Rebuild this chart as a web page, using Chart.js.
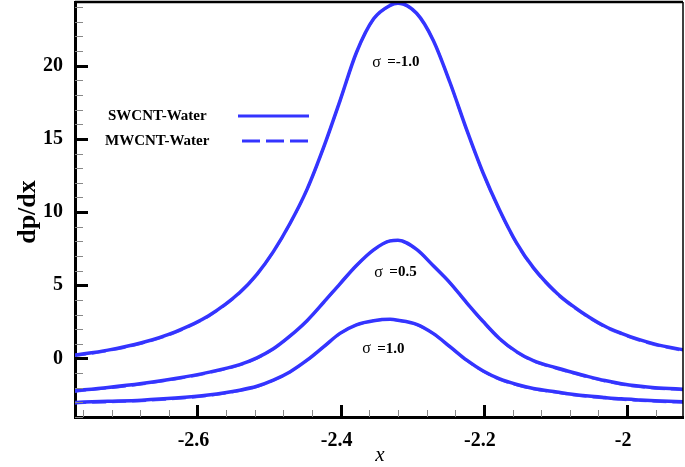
<!DOCTYPE html>
<html>
<head>
<meta charset="utf-8">
<script src="https://cdn.jsdelivr.net/npm/chart.js@4.4.0/dist/chart.umd.min.js"></script>
<style>
    body { margin: 0; background: #fff; }
    #wrap { width: 685px; height: 467px; }
</style>
</head>
<body>
<div id="wrap"><canvas id="myChart" width="685" height="467"></canvas></div>
<script>
// x positions
var xValues = [-2.775, -2.725, -2.678, -2.631, -2.585, -2.541, -2.517, -2.494, -2.471, -2.447, -2.424, -2.401,
    -2.378, -2.354, -2.331, -2.320, -2.294, -2.271, -2.247, -2.224, -2.201, -2.178, -2.154, -2.131,
    -2.098, -2.077, -2.054, -2.031, -2.008, -1.984, -1.961, -1.918];

// SWCNT-Water (solid)
var swSigmaM1 = [0.20, 0.57, 1.07, 1.82, 2.90, 4.50, 5.75, 7.30, 9.20, 11.55, 14.40, 17.60,
    20.90, 23.20, 24.12, 24.27, 23.58, 21.76, 18.80, 15.61, 12.65, 10.13, 7.86, 6.20,
    4.45, 3.62, 2.85, 2.20, 1.72, 1.30, 0.98, 0.55];
var swSigma05 = [-2.22, -1.98, -1.71, -1.37, -0.95, -0.42, 0.04, 0.66, 1.52, 2.58, 3.82, 5.10,
    6.35, 7.42, 8.03, 8.07, 7.45, 6.35, 5.15, 3.80, 2.52, 1.35, 0.45, -0.15,
    -0.65, -0.94, -1.24, -1.51, -1.73, -1.89, -2.00, -2.11];
var swSigma1 = [-3.01, -2.93, -2.85, -2.71, -2.50, -2.17, -1.90, -1.48, -0.92, -0.12, 0.79, 1.71,
    2.30, 2.58, 2.67, 2.61, 2.33, 1.71, 0.79, -0.12, -0.86, -1.40, -1.78, -2.05,
    -2.29, -2.44, -2.57, -2.67, -2.76, -2.83, -2.89, -2.97];

// MWCNT-Water (dashed), almost on top of the solid ones
var mwSigmaM1 = [0.15, 0.52, 1.02, 1.77, 2.86, 4.47, 5.73, 7.29, 9.19, 11.54, 14.39, 17.59,
    20.89, 23.19, 24.10, 24.25, 23.57, 21.75, 18.79, 15.60, 12.63, 10.10, 7.82, 6.16,
    4.40, 3.57, 2.80, 2.15, 1.66, 1.24, 0.92, 0.49];
var mwSigma05 = [-2.27, -2.03, -1.76, -1.42, -0.99, -0.46, 0.01, 0.64, 1.51, 2.57, 3.81, 5.09,
    6.34, 7.41, 8.02, 8.06, 7.44, 6.34, 5.13, 3.78, 2.49, 1.31, 0.41, -0.19,
    -0.70, -0.99, -1.29, -1.56, -1.78, -1.94, -2.05, -2.16];
var mwSigma1 = [-3.06, -2.98, -2.90, -2.76, -2.54, -2.21, -1.93, -1.50, -0.94, -0.13, 0.78, 1.70,
    2.29, 2.57, 2.66, 2.60, 2.32, 1.70, 0.77, -0.14, -0.89, -1.44, -1.82, -2.09,
    -2.33, -2.49, -2.62, -2.72, -2.81, -2.88, -2.94, -3.02];

var legendNames = ['SWCNT-Water', 'MWCNT-Water'];
var curveLabels = [
    { text: '=-1.0', x: -2.356, y: 20.23 },
    { text: '=0.5', x: -2.353, y: 5.88 },
    { text: '=1.0', x: -2.370, y: 0.64 }
];

var blue = 'rgb(52, 52, 255)';
var blueDash = 'rgb(95, 95, 255)';

function toPoints(ys) {
    return xValues.map(function (x, i) { return { x: x, y: ys[i] }; });
}

function solid(ys) {
    return { data: toPoints(ys), borderColor: blue, borderWidth: 3.5, pointRadius: 0,
        cubicInterpolationMode: 'monotone', fill: false };
}
function dashed(ys) {
    return { data: toPoints(ys), borderColor: blueDash, borderWidth: 2.5, borderDash: [14, 6], pointRadius: 0,
        cubicInterpolationMode: 'monotone', fill: false };
}

function isMajorX(v) { return Math.round(v * 100) % 20 === 0; }
function isMajorY(v) { return Math.round(v) % 5 === 0; }

var decorPlugin = {
    id: 'decor',
    afterDatasetsDraw: function (chart) {
        var ctx = chart.ctx;
        var area = chart.chartArea;
        var xs = chart.scales.x;
        var ys = chart.scales.y;
        ctx.save();

        // inward ticks
        xs.ticks.forEach(function (t) {
            var px = Math.round(xs.getPixelForValue(t.value)) + 0.5;
            var major = isMajorX(t.value);
            ctx.beginPath();
            ctx.lineWidth = major ? 3 : 1;
            ctx.strokeStyle = major ? '#000' : '#888';
            ctx.moveTo(px, area.bottom);
            ctx.lineTo(px, area.bottom - (major ? 12 : 7));
            ctx.stroke();
        });
        ys.ticks.forEach(function (t) {
            var py = Math.round(ys.getPixelForValue(t.value)) + 0.5;
            var major = isMajorY(t.value);
            ctx.beginPath();
            ctx.lineWidth = major ? 3 : 1;
            ctx.strokeStyle = major ? '#000' : '#888';
            ctx.moveTo(area.left, py);
            ctx.lineTo(area.left + (major ? 13 : 8), py);
            ctx.stroke();
        });

        // top and right frame
        ctx.strokeStyle = '#000';
        ctx.lineWidth = 2.5;
        ctx.beginPath();
        ctx.moveTo(area.left, area.top);
        ctx.lineTo(area.right, area.top);
        ctx.stroke();
        ctx.lineWidth = 1.5;
        ctx.beginPath();
        ctx.moveTo(area.right, area.top);
        ctx.lineTo(area.right, area.bottom);
        ctx.stroke();

        // legend
        ctx.fillStyle = '#000';
        ctx.font = 'bold 15px "Liberation Serif"';
        ctx.textBaseline = 'middle';
        ctx.textAlign = 'left';
        ctx.fillText(legendNames[0], 108, 116);
        ctx.fillText(legendNames[1], 105, 141);
        ctx.strokeStyle = blue;
        ctx.lineWidth = 3;
        ctx.beginPath();
        ctx.moveTo(238, 116);
        ctx.lineTo(309, 116);
        ctx.stroke();
        ctx.setLineDash([18, 6]);
        ctx.beginPath();
        ctx.moveTo(242, 141);
        ctx.lineTo(308, 141);
        ctx.stroke();
        ctx.setLineDash([]);

        // curve labels
        curveLabels.forEach(function (l) {
            var px = xs.getPixelForValue(l.x);
            var py = ys.getPixelForValue(l.y);
            ctx.fillStyle = '#000';
            ctx.font = '16px "Liberation Serif"';
            ctx.fillText('σ', px, py);
            ctx.font = 'bold 15px "Liberation Serif"';
            ctx.fillText(l.text, px + 15, py);
        });

        // axis titles
        ctx.font = 'bold 26px "Liberation Serif"';
        ctx.textAlign = 'center';
        ctx.save();
        ctx.translate(28, 212);
        ctx.rotate(-Math.PI / 2);
        ctx.fillText('dp/dx', 0, 0);
        ctx.restore();
        ctx.font = 'italic 21px "Liberation Serif"';
        ctx.fillText('x', 380, 455);

        ctx.restore();
    }
};

var ctx = document.getElementById('myChart').getContext('2d');
var chart = new Chart(ctx, {
    type: 'line',
    data: {
        datasets: [
            solid(swSigmaM1), solid(swSigma05), solid(swSigma1),
            dashed(mwSigmaM1), dashed(mwSigma05), dashed(mwSigma1)
        ]
    },
    options: {
        responsive: false,
        animation: false,
        layout: { padding: { top: 2, right: 2, left: 0, bottom: 0 } },
        plugins: { legend: { display: false }, tooltip: { enabled: false } },
        scales: {
            x: {
                type: 'linear',
                min: -2.771,
                max: -1.922,
                grid: { drawOnChartArea: false, drawTicks: false },
                border: { color: '#000', width: 3 },
                ticks: {
                    stepSize: 0.04,
                    includeBounds: false,
                    autoSkip: false,
                    maxRotation: 0,
                    padding: 12,
                    labelOffset: -4,
                    color: '#000',
                    font: { family: '"Liberation Serif"', size: 20, weight: 'bold' },
                    callback: function (v) { return isMajorX(v) ? String(Math.round(v * 10) / 10) : ''; }
                },
                afterFit: function (s) {
                    s.height = 50;
                    s.paddingLeft = 0;
                    s.paddingRight = 0;
                }
            },
            y: {
                min: -4,
                max: 24.35,
                grid: { drawOnChartArea: false, drawTicks: false },
                border: { color: '#000', width: 3 },
                ticks: {
                    stepSize: 1,
                    includeBounds: false,
                    autoSkip: false,
                    padding: 12,
                    color: '#000',
                    font: { family: '"Liberation Serif"', size: 20, weight: 'bold' },
                    callback: function (v) { return isMajorY(v) ? String(v) : ''; }
                },
                afterFit: function (s) {
                    s.width = 75;
                    s.paddingTop = 0;
                    s.paddingBottom = 0;
                }
            }
        }
    },
    plugins: [decorPlugin]
});
</script>
</body>
</html>
